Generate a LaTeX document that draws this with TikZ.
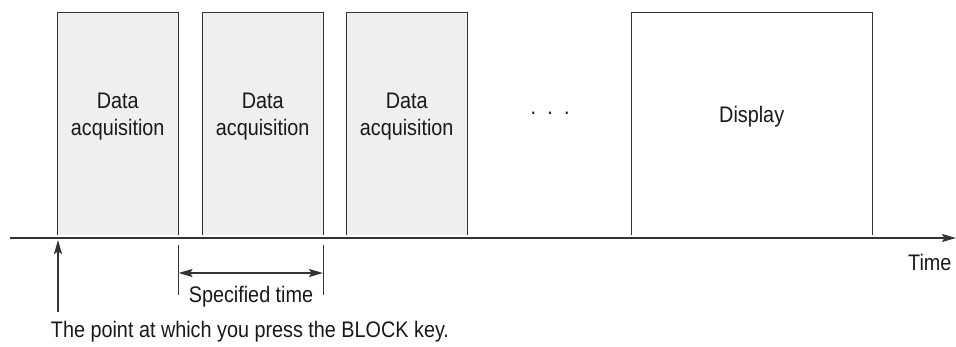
\documentclass[tikz,border=0pt]{standalone}
\usepackage{fontspec}
\setmainfont{Liberation Sans}[FakeStretch=0.88]
\usepackage{xcolor}
\usetikzlibrary{positioning,arrows.meta,calc}
\definecolor{boxgray}{HTML}{EFEFEF}
\definecolor{linegray}{HTML}{333333}

\begin{document}
\begin{tikzpicture}[
  x=1pt, y=1pt,
  block/.style={rectangle, draw=none, inner sep=0pt, anchor=south west, minimum height=222pt},
  label/.style={font=\fontsize{22.5}{27}\selectfont, align=center, text=black!90},
  tip/.style={Stealth[length=14pt,width=8pt,inset=2.5pt]},
  arrow/.style={-{Stealth[length=14pt,width=8pt,inset=2.5pt]}, linegray, line width=1.4pt},
  edge/.style={linegray, line width=0.9pt}
]
  \useasboundingbox (0,0) rectangle (956,346);

  % Blocks
  \node[block, fill=boxgray, minimum width=121pt] (acq1) at (57,111) {};
  \node[block, fill=boxgray, minimum width=121pt] (acq2) at (202,111) {};
  \node[block, fill=boxgray, minimum width=121pt] (acq3) at (346,111) {};
  \node[block, fill=white, minimum width=241pt] (disp) at (631,111) {};
  \foreach \b in {acq1,acq2,acq3,disp}
    \draw[edge] (\b.south west) -- (\b.north west) -- (\b.north east) -- (\b.south east);

  % Block texts
  \node[label] (txt1) at ($(acq1.center)+(0,7)$) {Data\\acquisition};
  \node[label] (txt2) at ($(acq2.center)+(0,7)$) {Data\\acquisition};
  \node[label] (txt3) at ($(acq3.center)+(0,7)$) {Data\\acquisition};
  \node[label] (dots) at (550,233) {.\,\,\,.\,\,\,.};
  \node[label] (txtd) at ($(disp.center)+(0,7)$) {Display};

  % Time axis
  \coordinate (t0) at (10,108);
  \coordinate (t1) at (956,108);
  \draw[arrow] (t0) -- (t1);
  \node[label, anchor=east] (time) at (955,84) {Time};

  % Specified time
  \coordinate (s1) at (178.5,101);
  \coordinate (s2) at (323,101);
  \draw[edge] (s1) -- ++(0,-50) coordinate (s1b);
  \draw[edge] (s2) -- ++(0,-50) coordinate (s2b);
  \draw[arrow, {Stealth[length=14pt,width=8pt,inset=2.5pt]}-{Stealth[length=14pt,width=8pt,inset=2.5pt]}]
    ($(s1)!0.56!(s1b)$) -- ($(s2)!0.56!(s2b)$);
  \node[label] (spec) at (251,49) {Specified time};

  % Trigger point
  \coordinate (p0) at (58,34);
  \coordinate (p1) at (58,106);
  \draw[arrow] (p0) -- (p1);
  \node[label] (press) at (250,14) {The point at which you press the BLOCK key.};
\end{tikzpicture}
\end{document}
